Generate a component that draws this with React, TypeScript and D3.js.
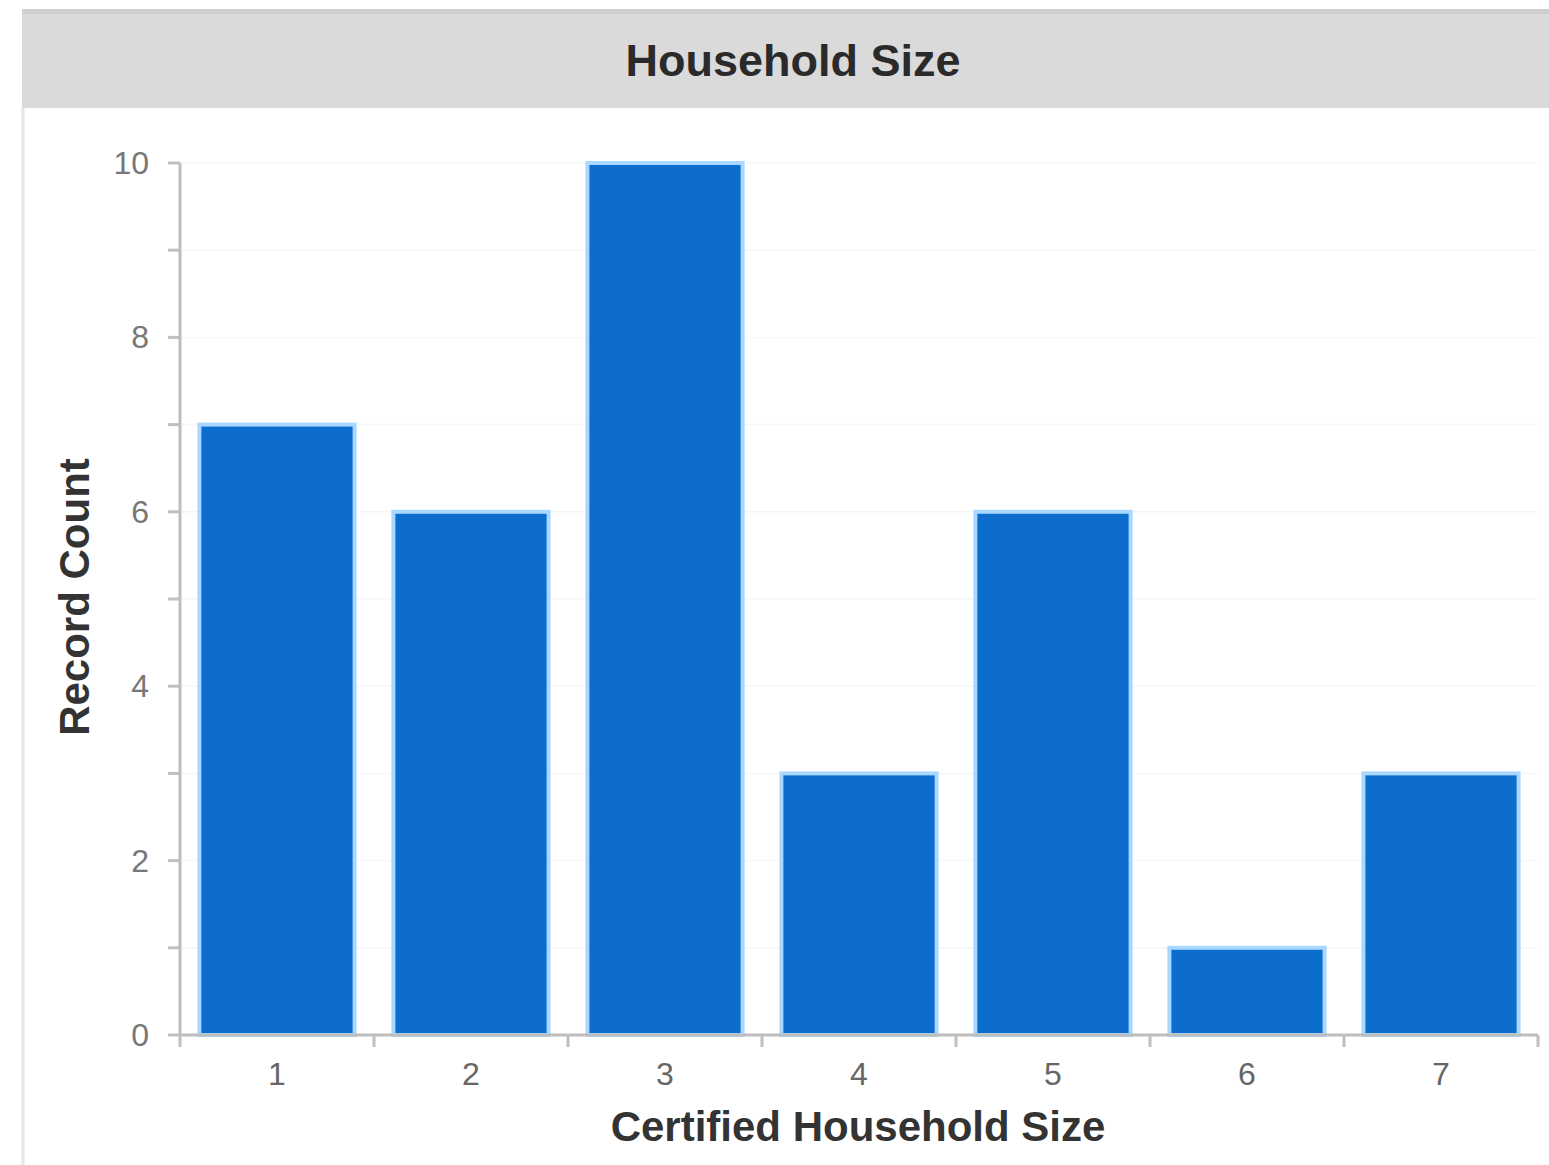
import React from "react";
import * as d3 from "d3";

const categories = ["1", "2", "3", "4", "5", "6", "7"];
const counts = [7, 6, 10, 3, 6, 1, 3];
const yTickLabels = [0, 2, 4, 6, 8, 10];
const title = "Household Size";
const xTitle = "Certified Household Size";
const yTitle = "Record Count";

const W = 1549;
const H = 1165;
const left = 180;
const right = 1538;
const top = 163;
const bottom = 1035;

export default function App() {
  const x = d3.scaleBand<string>().domain(categories).range([left, right]).paddingInner(0.2).paddingOuter(0.1);
  const y = d3.scaleLinear().domain([0, 10]).range([bottom, top]);
  const minor = d3.range(0, 11);
  const font = "Liberation Sans, Arial, sans-serif";
  const boundaries = categories.map((c) => (x(c) as number) - (x.step() - x.bandwidth()) / 2);
  return (
    <svg width={W} height={H} style={{ position: "absolute", left: 0, top: 0 }}>
      <rect x={0} y={0} width={W} height={H} fill="#ffffff" />
      <rect x={22} y={9} width={W - 22} height={99} fill="#dadada" />
      <rect x={22} y={9} width={W - 22} height={5} fill="#d0d0d0" />
      <line x1={23} x2={23} y1={108} y2={H} stroke="#e6e6e6" strokeWidth={3} />
      <text x={793} y={76} textAnchor="middle" fontFamily={font} fontWeight="bold" fontSize={45} fill="#2a2a2a">
        {title}
      </text>
      {minor.map((v) => (
        <line key={"g" + v} x1={left} x2={right} y1={y(v)} y2={y(v)} stroke="#f6f6f6" strokeWidth={1.5} />
      ))}
      {counts.map((c, i) => (
        <rect
          key={categories[i]}
          x={x(categories[i])}
          y={y(c)}
          width={x.bandwidth()}
          height={bottom - y(c)}
          fill="#0c6dcc"
          stroke="#a8d8ff"
          strokeWidth={4}
        />
      ))}
      <line x1={left} x2={left} y1={top} y2={bottom} stroke="#bdbdbd" strokeWidth={3} />
      <line x1={left} x2={right} y1={bottom} y2={bottom} stroke="#bdbdbd" strokeWidth={3} />
      {minor.map((v) => (
        <line key={"t" + v} x1={left - 12} x2={left} y1={y(v)} y2={y(v)} stroke="#c0c0c0" strokeWidth={3} />
      ))}
      {yTickLabels.map((v) => (
        <text key={"yl" + v} x={149} y={y(v) + 11} textAnchor="end" fontFamily={font} fontSize={32} fill="#777">
          {v}
        </text>
      ))}
      {boundaries.slice(1).concat([right]).map((b, i) => (
        <line key={"xt" + i} x1={b} x2={b} y1={bottom} y2={bottom + 12} stroke="#c0c0c0" strokeWidth={3} />
      ))}
      <line x1={left} x2={left} y1={bottom} y2={bottom + 12} stroke="#c0c0c0" strokeWidth={3} />
      {categories.map((c) => (
        <text key={"xl" + c} x={(x(c) as number) + x.bandwidth() / 2} y={1085} textAnchor="middle" fontFamily={font} fontSize={32} fill="#666">
          {c}
        </text>
      ))}
      <text x={858} y={1141} textAnchor="middle" fontFamily={font} fontWeight="bold" fontSize={42} fill="#333">
        {xTitle}
      </text>
      <text
        transform={`translate(89, 597) rotate(-90)`}
        textAnchor="middle"
        fontFamily={font}
        fontWeight="bold"
        fontSize={42}
        fill="#333"
      >
        {yTitle}
      </text>
    </svg>
  );
}
